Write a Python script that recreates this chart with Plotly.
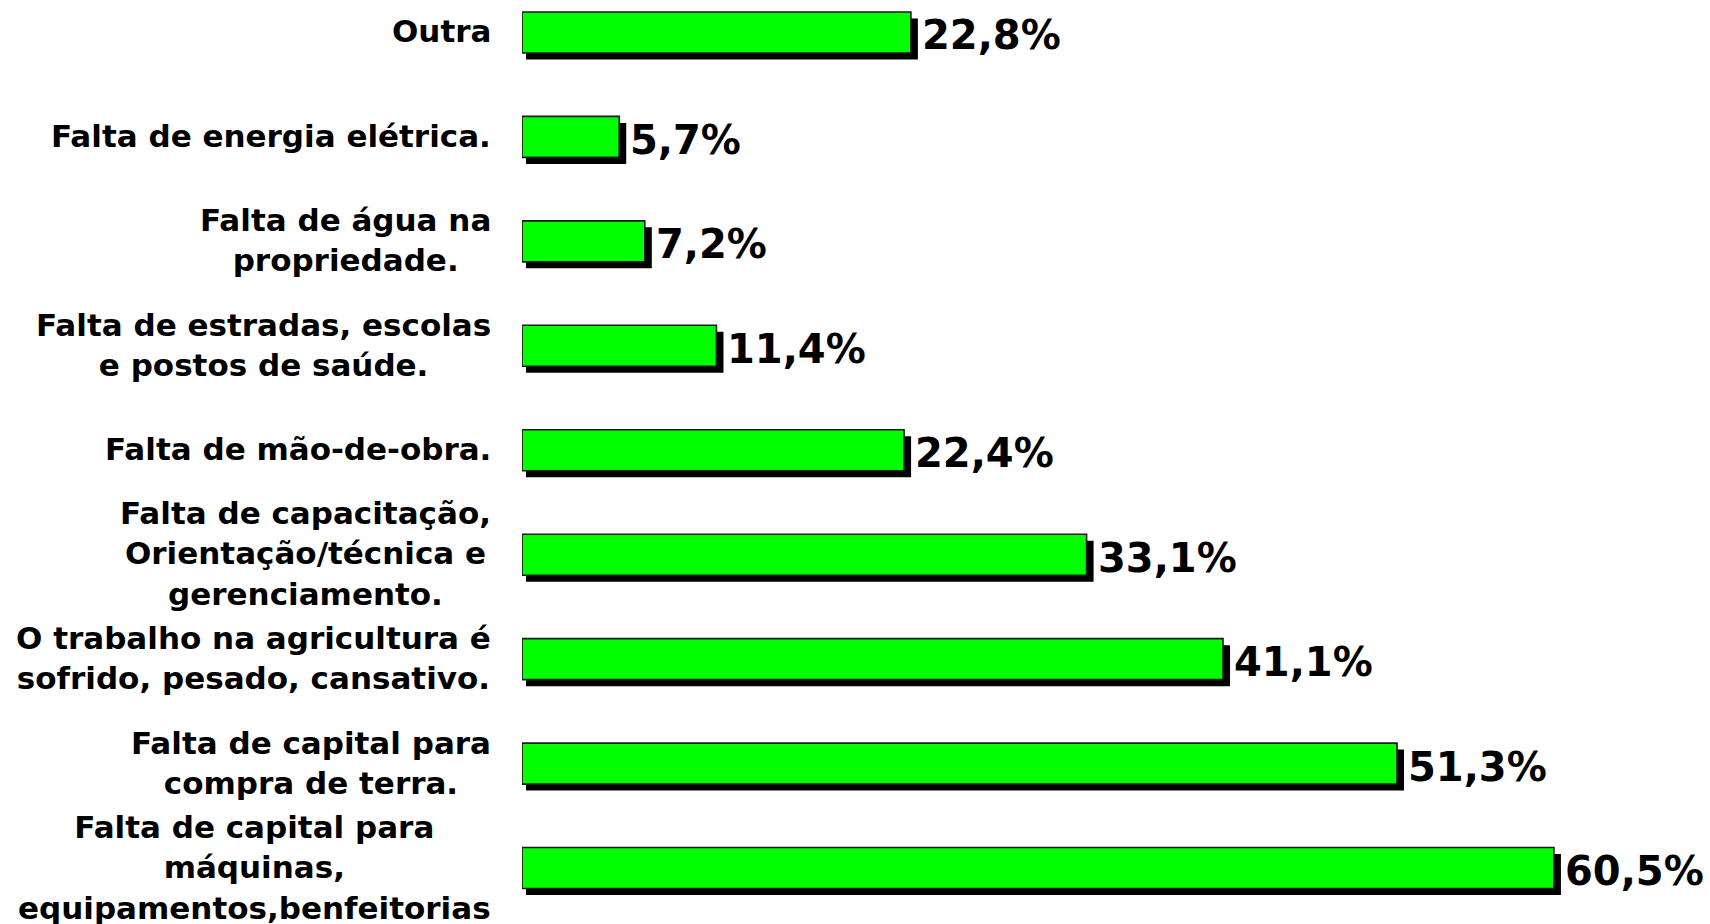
import plotly.graph_objects as go

# ---- data (top to bottom as shown) ----
categories = [
    "Outra",
    "Falta de energia elétrica.",
    "Falta de água na<br>propriedade.",
    "Falta de estradas, escolas<br>e postos de saúde.",
    "Falta de mão-de-obra.",
    "Falta de capacitação,<br>Orientação/técnica e<br>gerenciamento.",
    "O trabalho na agricultura é<br>sofrido, pesado, cansativo.",
    "Falta de capital para<br>compra de terra.",
    "Falta de capital para<br>máquinas,<br>equipamentos,benfeitorias",
]
values = [22.8, 5.7, 7.2, 11.4, 22.4, 33.1, 41.1, 51.3, 60.5]
value_labels = ["22,8%", "5,7%", "7,2%", "11,4%", "22,4%", "33,1%", "41,1%", "51,3%", "60,5%"]

# ---- layout constants ----
W, H = 1710, 924
ML = 522
X_RANGE = [0, 69.65]
Y_RANGE = [-0.536, 8.311]
px_x = (W - ML) / (X_RANGE[1] - X_RANGE[0])
px_y = H / (Y_RANGE[1] - Y_RANGE[0])

n = len(categories)
ypos = [n - 1 - i for i in range(n)]
BAR_W = 41 / px_y
FONT = "DejaVu Sans"

fig = go.Figure()

# shadow bars
fig.add_trace(go.Bar(
    x=[v + 3 / px_x for v in values],
    y=ypos,
    base=4 / px_x,
    orientation="h",
    width=BAR_W,
    offset=-BAR_W / 2 - 6.5 / px_y,
    marker=dict(color="#000000", line=dict(width=0)),
    hoverinfo="skip",
    showlegend=False,
))

# main green bars
fig.add_trace(go.Bar(
    x=values,
    y=ypos,
    orientation="h",
    width=BAR_W,
    marker=dict(color="#00FF00", line=dict(color="#1a1a1a", width=1.6)),
    showlegend=False,
))

annotations = []
for cat, yp, v, lab in zip(categories, ypos, values, value_labels):
    annotations.append(dict(
        x=0, xref="paper", y=yp, yref="y",
        text=cat, showarrow=False,
        xanchor="right", yanchor="middle", align="center",
        xshift=-29, yshift=1,
        font=dict(family=FONT, size=31, color="#000000", weight="bold"),
    ))
    annotations.append(dict(
        x=v, xref="x", y=yp, yref="y",
        text=lab, showarrow=False,
        xanchor="left", yanchor="middle",
        xshift=9, yshift=-3,
        font=dict(family=FONT, size=40, color="#000000", weight="bold"),
    ))

fig.update_layout(
    width=W, height=H,
    margin=dict(l=ML, r=0, t=0, b=0, pad=0),
    barmode="overlay",
    paper_bgcolor="#ffffff",
    plot_bgcolor="#ffffff",
    xaxis=dict(range=X_RANGE, visible=False, fixedrange=True),
    yaxis=dict(range=Y_RANGE, visible=False, fixedrange=True),
    annotations=annotations,
    showlegend=False,
)

fig.write_html(
    "out.html",
    config={"displayModeBar": False},
    post_script="document.body.style.margin='0';document.body.style.overflow='hidden';",
)
